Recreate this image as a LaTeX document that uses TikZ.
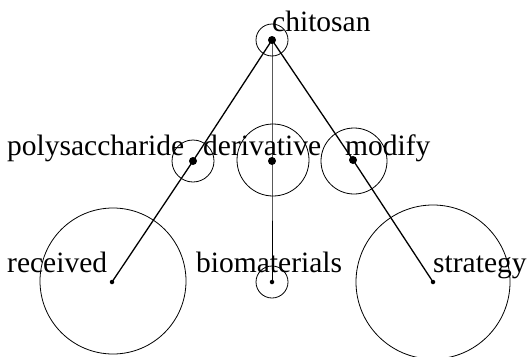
\documentclass[tikz,border=0pt]{standalone}
\usepackage{fontspec}
\setmainfont{Liberation Serif}
\begin{document}
\begin{tikzpicture}[x=1pt,y=-1pt,
  lbl/.style={anchor=base west,inner sep=0pt,font=\fontsize{29.5}{30}\selectfont,text=black},
  ring/.style={draw,circle,line width=0.8pt,inner sep=0pt,minimum size=#1},
  bigdot/.style={circle,fill=black,inner sep=0pt,minimum size=8pt},
  smalldot/.style={circle,fill=black,inner sep=0pt,minimum size=4.5pt},
  edge/.style={line width=1.3pt},
  thinedge/.style={line width=0.9pt}]
\useasboundingbox (0,0) rectangle (532,356);
% dots
\node[bigdot] (c) at (272,40) {};
\node[bigdot] (p) at (193,161) {};
\node[bigdot] (d) at (272,161) {};
\node[bigdot] (m) at (353,160) {};
\node[smalldot] (r) at (112,282) {};
\node[smalldot] (b) at (272,282) {};
\node[smalldot] (s) at (433,282) {};
% rings
\node[ring=32pt] (cr) at (272,40) {};
\node[ring=42pt] (pr) at (193,161) {};
\node[ring=72pt] (dr) at (273,160) {};
\node[ring=66pt] (mr) at (354,161) {};
\node[ring=146pt] (rr) at (113,281) {};
\node[ring=32pt] (br) at (272,282) {};
\node[ring=154pt] (sr) at (433,282) {};
% edges
\draw[edge] (c.center) -- (p.center) -- (r.center);
\draw[thinedge] (c.center) -- (d.center) -- (b.center);
\draw[edge] (c.center) -- (m.center) -- (s.center);
% labels
\node[lbl] (tc) at (272,31) {chitosan};
\node[lbl] (tp) at (7,155) {polysaccharide};
\node[lbl] (td) at (203,155) {derivative};
\node[lbl] (tm) at (345,155) {modify};
\node[lbl] (tr) at (7,272) {received};
\node[lbl] (tb) at (196,272) {biomaterials};
\node[lbl] (ts) at (433,272) {strategy};
\end{tikzpicture}
\end{document}
